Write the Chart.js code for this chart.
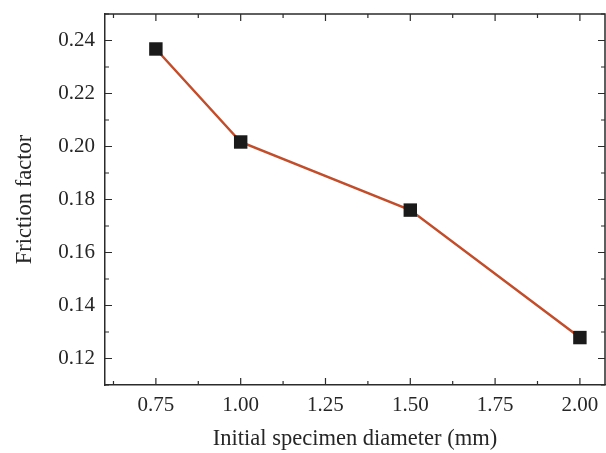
<!DOCTYPE html>
<html lang="en">
<head>
  <meta charset="UTF-8">
  <title>Friction factor vs initial specimen diameter</title>
  <script src="https://cdn.jsdelivr.net/npm/chart.js"></script>
  <style>
    html, body {
      margin: 0;
      padding: 0;
      background: #fff;
      overflow: hidden;
    }
    #wrap {
      width: 606px;
      height: 453px;
    }
  </style>
</head>
<body>
  <div id="wrap"><canvas id="frictionChart"></canvas></div>

  <script>
    // values
    const diameters = [0.75, 1.00, 1.50, 2.00];
    const frictionFactors = [0.2368, 0.2017, 0.1760, 0.1279];

    const xTicks = [0.75, 1.00, 1.25, 1.50, 1.75, 2.00];
    const xMinorTicks = [0.625, 0.875, 1.125, 1.375, 1.625, 1.875];
    const yTicks = [0.12, 0.14, 0.16, 0.18, 0.20, 0.22, 0.24];
    const yMinorTicks = [0.11, 0.13, 0.15, 0.17, 0.19, 0.21, 0.23, 0.25];

    const serif = "'Liberation Serif', 'DejaVu Serif', serif";
    const axisColor = '#2b2b2b';
    const textColor = '#262626';

    // inward ticks on all four sides, plus top and right frame lines
    const frameTicks = {
      id: 'frameTicks',
      afterDraw(chart) {
        const { ctx, chartArea: a, scales: { x, y } } = chart;
        ctx.save();
        ctx.strokeStyle = axisColor;
        ctx.lineWidth = 1.5;
        ctx.beginPath();
        ctx.moveTo(a.left, a.top);
        ctx.lineTo(a.right, a.top);
        ctx.lineTo(a.right, a.bottom);
        ctx.stroke();

        ctx.lineWidth = 1.2;
        ctx.beginPath();
        const tick = (vals, len) => {
          vals.forEach(v => {
            const px = x.getPixelForValue(v);
            ctx.moveTo(px, a.bottom); ctx.lineTo(px, a.bottom - len);
            ctx.moveTo(px, a.top); ctx.lineTo(px, a.top + len);
          });
        };
        tick(xTicks, 7);
        tick(xMinorTicks, 4);
        const ytick = (vals, len) => {
          vals.forEach(v => {
            const py = y.getPixelForValue(v);
            ctx.moveTo(a.left, py); ctx.lineTo(a.left + len, py);
            ctx.moveTo(a.right, py); ctx.lineTo(a.right - len, py);
          });
        };
        ytick(yTicks, 7);
        ytick(yMinorTicks, 4);
        ctx.stroke();
        ctx.restore();
      }
    };

    const ctx = document.getElementById('frictionChart').getContext('2d');

    new Chart(ctx, {
      type: 'scatter',
      data: {
        datasets: [
          {
            label: 'Friction factor',
            data: diameters.map((d, i) => ({ x: d, y: frictionFactors[i] })),
            showLine: true,
            borderColor: '#c24d2b',
            borderWidth: 2.5,
            pointStyle: 'rect',
            pointRadius: 9.5,
            pointHoverRadius: 9.5,
            pointBackgroundColor: '#1a1a1a',
            pointBorderColor: '#1a1a1a',
            pointBorderWidth: 0
          }
        ]
      },
      options: {
        responsive: true,
        maintainAspectRatio: false,
        animation: false,
        layout: { autoPadding: false, padding: { top: 14, right: 1, left: 0, bottom: 0 } },
        plugins: {
          legend: { display: false },
          tooltip: { enabled: false }
        },
        scales: {
          x: {
            type: 'linear',
            min: 0.6,
            max: 2.074,
            afterBuildTicks: s => { s.ticks = xTicks.map(v => ({ value: v })); },
            afterFit: s => { s.height = 68; s.paddingLeft = 0; s.paddingRight = 0; },
            grid: { display: false, drawTicks: false },
            border: { display: true, color: axisColor, width: 1.5 },
            ticks: {
              padding: 8,
              color: textColor,
              font: { family: serif, size: 21 },
              callback: v => Number(v).toFixed(2)
            },
            title: {
              display: true,
              text: 'Initial specimen diameter (mm)',
              color: textColor,
              font: { family: serif, size: 22.5 },
              padding: { top: 0, bottom: 0 }
            }
          },
          y: {
            min: 0.11,
            max: 0.25,
            afterBuildTicks: s => { s.ticks = yTicks.map(v => ({ value: v })); },
            afterFit: s => { s.width = 105; s.paddingTop = 0; s.paddingBottom = 0; },
            grid: { display: false, drawTicks: false },
            border: { display: true, color: axisColor, width: 1.5 },
            ticks: {
              padding: 10,
              color: textColor,
              font: { family: serif, size: 21 },
              callback: v => Number(v).toFixed(2)
            },
            title: {
              display: true,
              text: 'Friction factor',
              color: textColor,
              font: { family: serif, size: 22.5 },
              padding: { top: 12, bottom: 0 }
            }
          }
        }
      },
      plugins: [frameTicks]
    });
  </script>
</body>
</html>
